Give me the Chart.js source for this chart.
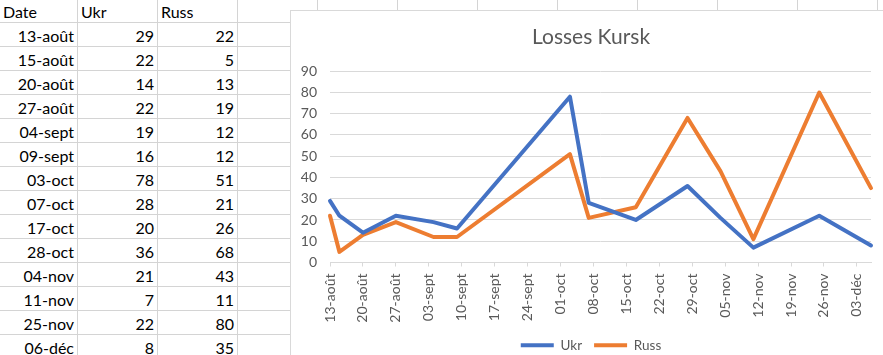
<!DOCTYPE html>
<html>
<head>
<meta charset="utf-8">
<script src="https://cdn.jsdelivr.net/npm/chart.js@4"></script>
<style>
  html, body { margin: 0; padding: 0; background: #fff; width: 883px; height: 355px; overflow: hidden; }
  #sheet { position: absolute; left: 0; top: 0; width: 883px; height: 355px; font-family: Lato, sans-serif; font-size: 16px; color: #000; }
  .cell { position: absolute; box-sizing: border-box; border-right: 1px solid #D4D4D4; border-bottom: 1px solid #D4D4D4; white-space: nowrap; overflow: hidden; }
  #chartBox { position: absolute; left: 290px; top: 10px; width: 600px; height: 360px; background: #fff; border: 1px solid #D9D9D9; }
  #chartBox canvas { position: absolute; left: 0; top: 0; }
</style>
</head>
<body>
<div id="sheet"></div>
<div id="chartBox"><canvas id="c" width="600" height="360"></canvas></div>
<script>
// ---- data ----
const dates = ['2024-08-13','2024-08-15','2024-08-20','2024-08-27','2024-09-04','2024-09-09','2024-10-03','2024-10-07','2024-10-17','2024-10-28','2024-11-04','2024-11-11','2024-11-25','2024-12-06'];
const ukr  = [29, 22, 14, 22, 19, 16, 78, 28, 20, 36, 21, 7, 22, 8];
const russ = [22, 5, 13, 19, 12, 12, 51, 21, 26, 68, 43, 11, 80, 35];
const monthNames = ['janv','févr','mars','avr','mai','juin','juil','août','sept','oct','nov','déc'];
const headers = ['Date', 'Ukr', 'Russ'];
const seriesNames = ['Ukr', 'Russ'];
const chartTitle = 'Losses Kursk';

const DAY = 86400000;
const t0 = Date.parse(dates[0]);
function dayOffset(iso) { return Math.round((Date.parse(iso) - t0) / DAY); }
function frLabel(ms) {
  const d = new Date(ms);
  return String(d.getUTCDate()).padStart(2, '0') + '-' + monthNames[d.getUTCMonth()];
}

// ---- spreadsheet ----
const sheet = document.getElementById('sheet');
const colWidths = [78, 80, 80, 80, 80, 80, 80, 80, 80, 80, 80, 80];
const rowHeights = [23]; for (let i = 0; i < 15; i++) rowHeights.push(24);
const rows = [headers].concat(dates.map((d, i) => [frLabel(Date.parse(d)), String(ukr[i]), String(russ[i])]));
let y = 0;
rowHeights.forEach((h, r) => {
  let x = 0;
  colWidths.forEach((w, c) => {
    const el = document.createElement('div');
    el.className = 'cell';
    el.style.left = x + 'px'; el.style.top = y + 'px';
    el.style.width = w + 'px'; el.style.height = h + 'px';
    el.style.lineHeight = (h + 1) + 'px';
    const txt = rows[r] && rows[r][c] !== undefined ? rows[r][c] : '';
    el.textContent = txt;
    if (r === 0) { el.style.textAlign = 'left'; el.style.paddingLeft = '3px'; }
    else { el.style.textAlign = 'right'; el.style.paddingRight = '3px'; }
    sheet.appendChild(el);
    x += w;
  });
  y += h;
});

// ---- chart ----
const xMax = dayOffset(dates[dates.length - 1]);
const gridColor = '#D9D9D9';
const textColor = '#595959';
new Chart(document.getElementById('c'), {
  type: 'line',
  data: {
    datasets: [
      { label: seriesNames[0], data: dates.map((d, i) => ({ x: dayOffset(d), y: ukr[i] })),
        borderColor: '#4472C4', backgroundColor: '#4472C4', borderWidth: 4, pointRadius: 0, tension: 0,
        borderJoinStyle: 'round', borderCapStyle: 'round', clip: false },
      { label: seriesNames[1], data: dates.map((d, i) => ({ x: dayOffset(d), y: russ[i] })),
        borderColor: '#ED7D31', backgroundColor: '#ED7D31', borderWidth: 4, pointRadius: 0, tension: 0,
        borderJoinStyle: 'round', borderCapStyle: 'round', clip: false }
    ]
  },
  options: {
    responsive: false,
    animation: false,
    devicePixelRatio: 1,
    layout: { padding: { left: 0, right: 0, top: 0, bottom: 9 } },
    plugins: {
      title: { display: true, text: chartTitle, color: textColor,
        font: { family: 'Lato', size: 21, weight: 'normal' }, padding: { top: 14, bottom: 21 } },
      legend: { position: 'bottom',
        labels: { usePointStyle: true, pointStyle: 'line', pointStyleWidth: 33, padding: 12,
          color: textColor, font: { family: 'Lato', size: 13.5 } } },
      tooltip: { enabled: false }
    },
    scales: {
      x: {
        type: 'linear', min: 0, max: xMax,
        afterFit: s => { s.height = 64; },
        ticks: { stepSize: 7, includeBounds: false, autoSkip: false, maxRotation: 90, minRotation: 90,
          padding: 7, color: textColor, font: { family: 'Lato', size: 14 },
          callback: v => frLabel(t0 + v * DAY) },
        grid: { drawOnChartArea: false, drawTicks: true, tickLength: 4, color: gridColor },
        border: { display: true, color: gridColor }
      },
      y: {
        min: 0, max: 90,
        afterFit: s => { s.width = 39; },
        ticks: { stepSize: 10, padding: 13, color: textColor, font: { family: 'Lato', size: 14 } },
        grid: { color: gridColor, drawTicks: false },
        border: { display: false }
      },
      yRight: {
        type: 'linear', position: 'right', display: true, min: 0, max: 90,
        afterFit: s => { s.width = 20; },
        ticks: { display: false },
        grid: { display: false, drawTicks: false },
        border: { display: false }
      }
    }
  }
});
</script>
</body>
</html>
